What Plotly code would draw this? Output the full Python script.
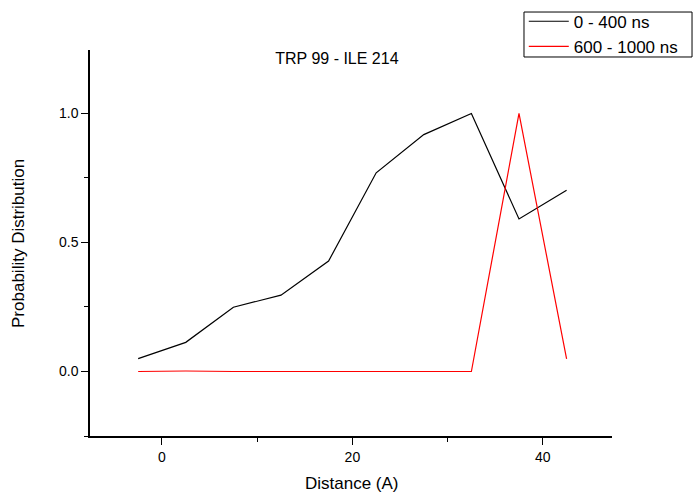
import plotly.graph_objects as go

distance = [-2.5, 2.5, 7.5, 12.5, 17.5, 22.5, 27.5, 32.5, 37.5, 42.5]
early = [0.05, 0.113, 0.249, 0.296, 0.428, 0.77, 0.918, 1.0, 0.591, 0.702]
late = [0.0, 0.002, 0.0, 0.0, 0.0, 0.0, 0.0, 0.0, 1.0, 0.049]
series_names = ["0 - 400 ns", "600 - 1000 ns"]

FONT = "Liberation Sans, Arial, sans-serif"

fig = go.Figure()
fig.add_trace(go.Scatter(x=distance, y=early, mode="lines", name=series_names[0],
                         line=dict(color="black", width=1.2)))
fig.add_trace(go.Scatter(x=distance, y=late, mode="lines", name=series_names[1],
                         line=dict(color="red", width=1.2)))

fig.update_layout(
    width=694, height=495,
    margin=dict(l=90, r=82, t=50, b=59, autoexpand=False),
    paper_bgcolor="white", plot_bgcolor="white",
    font=dict(family=FONT, color="black", size=14),
    title=dict(text="TRP 99 - ILE 214", x=0.473, xref="paper", y=0.977, yref="paper",
               xanchor="center", yanchor="middle", font=dict(size=16, family=FONT)),
    legend=dict(x=0.831, y=1.12, xanchor="left", yanchor="top",
                borderwidth=0, bgcolor="rgba(0,0,0,0)",
                font=dict(size=17, family=FONT), tracegroupgap=0,
                itemwidth=40),
    showlegend=True,
    shapes=[
        dict(type="rect", xref="paper", yref="paper",
             x0=0.8314, x1=1.1533, y0=0.9819, y1=1.0984,
             line=dict(color="black", width=1), fillcolor="white", layer="below"),
    ],
    annotations=[
        dict(text="Distance (A)", xref="paper", yref="paper", x=0.502, y=-0.122,
             xanchor="center", yanchor="middle", showarrow=False,
             font=dict(size=17, family=FONT)),
        dict(text="Probability Distribution", xref="paper", yref="paper", x=-0.138, y=0.5,
             xanchor="center", yanchor="middle", showarrow=False, textangle=-90,
             font=dict(size=17, family=FONT)),
    ],
)
fig.update_xaxes(
    range=[-7.56, 47.27], showgrid=False, zeroline=False, automargin=False,
    showline=True, linecolor="black", linewidth=1.5,
    ticks="outside", ticklen=7, tickwidth=1.2, tickcolor="black",
    tick0=0, dtick=20,
    minor=dict(ticks="outside", ticklen=4, tickwidth=1.2, tickcolor="black", dtick=10, tick0=0),
    tickfont=dict(size=14),
)
fig.update_yaxes(
    range=[-0.25, 1.246], showgrid=False, zeroline=False, automargin=False,
    showline=True, linecolor="black", linewidth=1.5,
    ticks="outside", ticklen=7, tickwidth=1.2, tickcolor="black",
    tick0=0, dtick=0.5, tickformat=".1f",
    minor=dict(ticks="outside", ticklen=4, tickwidth=1.2, tickcolor="black", dtick=0.25, tick0=0),
    tickfont=dict(size=14),
)

fig.write_html("out.html")
